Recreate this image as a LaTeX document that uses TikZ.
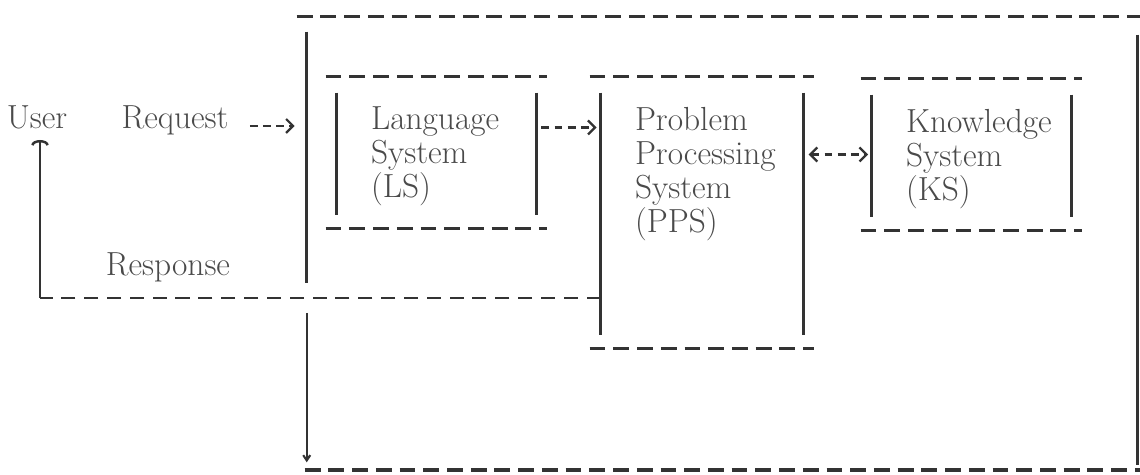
\documentclass[tikz,border=0pt]{standalone}
\usetikzlibrary{arrows.meta,calc,positioning}
\definecolor{ink}{HTML}{333333}
\definecolor{print}{HTML}{4A4A4A}

\tikzset{
  dashrule/.style={draw=ink,line width=1.6pt,dash pattern=on 9pt off 4.5pt},
  siderule/.style={draw=ink,line width=1.6pt},
  flow/.style={draw=ink,line width=1.3pt,dash pattern=on 4.5pt off 3pt},
  lbl/.style={text=print,font=\fontsize{19}{19.4}\selectfont,inner sep=0pt,align=left},
}

\begin{document}
\begin{tikzpicture}[x=0.02cm,y=0.02cm,>={Straight Barb[length=4pt,width=8pt]}]
\useasboundingbox (0,0) rectangle (1140,475);

% outer frame
\node[minimum width=16.6cm,minimum height=9.06cm,inner sep=0pt] (dss) at (722,231.5) {};
\draw[dashrule] ($(dss.north west)+(-10,0)$) -- ($(dss.north east)+(5,0)$);
\draw[dashrule,line width=2.3pt] ($(dss.south west)+(-2,0)$) -- ($(dss.south east)+(5,0)$);
\draw[siderule] ($(dss.north east)+(0,-18)$) -- ($(dss.south east)+(0,5)$);
\draw[siderule] ($(dss.north west)+(0,-15)$) -- (dss.west |- 0,192);
\draw[siderule,line width=1.2pt,-{Straight Barb[length=3pt,width=4pt]}] (dss.west |- 0,162) -- ($(dss.south west)+(0,8)$);

% the three subsystems
\foreach \nm/\cx/\cy/\w/\h/\txt in {%
  ls/436.5/322.5/3.98/3.02/{Language\\System\\(LS)},
  pps/702/262.5/4.04/5.42/{Problem\\Processing\\System\\(PPS)},
  ks/971.5/320.5/3.98/3.02/{Knowledge\\System\\(KS)}}{%
  \node[minimum width=\w cm,minimum height=\h cm,inner sep=0pt] (\nm) at (\cx,\cy) {};
  \draw[dashrule] ($(\nm.north west)+(-11,0)$) -- ($(\nm.north east)+(11,0)$);
  \draw[dashrule] ($(\nm.south west)+(-11,0)$) -- ($(\nm.south east)+(11,0)$);
  \draw[siderule] ($(\nm.north west)+(0,-16)$) -- ($(\nm.south west)+(0,13)$);
  \draw[siderule] ($(\nm.north east)+(0,-16)$) -- ($(\nm.south east)+(0,13)$);
  \node[lbl,anchor=north west] (\nm-text) at ($(\nm.north west)+(34,-30)$) {\txt};
}

\node[lbl] (user) at (37,358) {User};
\node[lbl] (request) at (175,355) {Request};
\node[lbl] (response) at (168,208) {Response};

% request in, response back
\draw[flow,->] ([shift={(21,-6)}]request.east) -- ([shift={(-12,-6)}]dss.west |- request.east);
\draw[flow,->] ($(ls.east)+(5,25)$) -- ($(pps.west |- ls.east)+(-4,25)$);
\draw[flow,<->] ([xshift=3]pps.east |- ks.west) -- ([xshift=-2]ks.west);

\coordinate (turn) at (40,177);
\draw[flow,line width=1.5pt,dash pattern=on 8pt off 5pt] (pps.west |- turn) -- (turn);
\draw[siderule,line width=1.4pt,-{Arc Barb[length=3pt,width=10pt]}] (turn) -- (turn |- 0,335);

\end{tikzpicture}
\end{document}
